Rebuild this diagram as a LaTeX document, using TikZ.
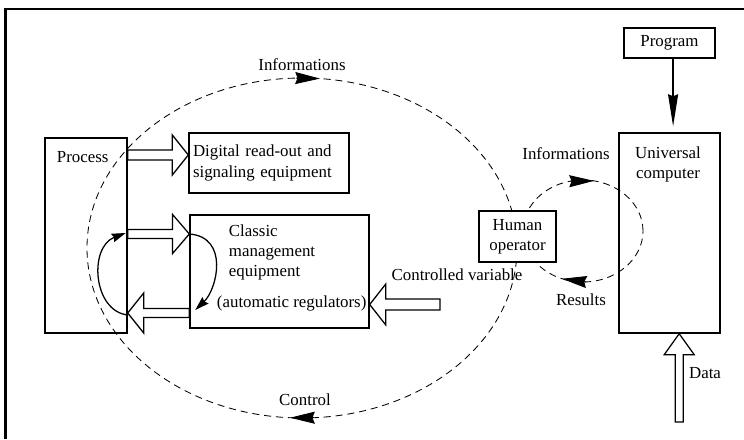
\documentclass[tikz,border=0pt]{standalone}
\usepackage{fontspec}
\setmainfont{Liberation Serif}
\usetikzlibrary{arrows.meta, calc}

% outline arrow: from, to, shaft half width, head half width, head length
\newcommand{\hollowarrow}[5]{%
  \draw[blockarrow] let \p1=(#1), \p2=(#2), \n1={atan2(\y2-\y1,\x2-\x1)}, \n2={veclen(\x2-\x1,\y2-\y1)} in
    [shift={(\p1)}, rotate=\n1]
    (0,-#3) -- (\n2-#5,-#3) -- (\n2-#5,-#4) -- (\n2,0) -- (\n2-#5,#4) -- (\n2-#5,#3) -- (0,#3) -- cycle;}

\tikzset{
  box/.style={draw, line width=1pt, inner sep=0.1cm},
  blockarrow/.style={line width=0.9pt},
  dashloop/.style={dash pattern=on 5pt off 3.5pt, line width=0.6pt},
  dashhead/.style={-{Stealth[length=0.62cm,width=0.3cm,inset=0.06cm]}, line width=0.6pt},
  curvearrow/.style={-{Stealth[length=0.35cm,width=0.22cm,inset=0.04cm]}, line width=0.9pt}
}

\begin{document}
\begin{tikzpicture}[font=\fontsize{12}{14.4}\selectfont]
\useasboundingbox (0,0) rectangle (18.6,10.975);
\draw[line width=1.8pt] (0.14,0) -- (0.14,10.75) -- (18.6,10.75);

% dashed loops first, the operator box covers them
\coordinate (bigc) at (7.55,4.775);
\coordinate (smallc) at (14.575,5.2);
\draw[dashloop] (bigc) ellipse [x radius=5.375, y radius=4.25];
\draw[dashloop] (smallc) ellipse [x radius=1.5, y radius=1.275];
\path (bigc) ++(91.6:5.375 and 4.25) coordinate (infoa) (bigc) ++(85.2:5.375 and 4.25) coordinate (infob)
      (bigc) ++(-86.8:5.375 and 4.25) coordinate (ctrla) (bigc) ++(-93.2:5.375 and 4.25) coordinate (ctrlb)
      (smallc) ++(102.5:1.5 and 1.275) coordinate (sinfoa) (smallc) ++(79.4:1.5 and 1.275) coordinate (sinfob)
      (smallc) ++(-87.1:1.5 and 1.275) coordinate (resa) (smallc) ++(-110.5:1.5 and 1.275) coordinate (resb);
\draw[dashhead] (infoa) -- (infob);
\draw[dashhead] (ctrla) -- (ctrlb);
\draw[dashhead] (sinfoa) -- (sinfob);
\draw[dashhead] (resa) -- (resb);

\node[box, minimum width=2.05cm, minimum height=4.875cm] (process) at (2.15,5.0875) {};
\node[anchor=west] (processtext) at (1.3,7.05) {Process};
\node[box, minimum width=4cm, minimum height=1.5cm, text width=3.8cm, align=left] (digital) at (6.725,6.9) {Digital read-out and\\signaling equipment};
\node[box, minimum width=4.475cm, minimum height=2.825cm] (classic) at (6.9875,4.1875) {};
\node[anchor=west, align=left] (classictext) at (5.6,4.66) {Classic\\management\\equipment};
\node[anchor=west] (regulators) at (5.3,3.4) {(automatic regulators)};
\node[box, fill=white, minimum width=1.925cm, minimum height=1.275cm, align=center] (operator) at (12.9375,5.0625) {Human\\operator};
\node[box, minimum width=2.525cm, minimum height=5cm] (computer) at (16.7375,5.15) {};
\node[align=center] (computertext) at (16.7,6.86) {Universal\\computer};
\node[box, minimum width=2.275cm, minimum height=0.75cm] (program) at (16.7375,9.9) {Program};

\node (info1) at (7.55,9.35) {Informations};
\node (info2) at (14.15,7.125) {Informations};
\node (controlled) at (11.425,4.1) {Controlled variable};
\node (results) at (14.525,3.475) {Results};
\node (control) at (7.625,0.975) {Control};
\node (data) at (17.625,1.65) {Data};

\hollowarrow{process.east |- 0,7.1}{digital.west |- 0,7.1}{0.125cm}{0.5cm}{0.4cm}
\hollowarrow{process.east |- 0,5.125}{classic.west |- 0,5.125}{0.115cm}{0.49cm}{0.42cm}
\hollowarrow{classic.west |- 0,3.15}{process.east |- 0,3.15}{0.115cm}{0.5cm}{0.4cm}
\coordinate (cvstart) at (11.0,3.3625);
\hollowarrow{cvstart}{classic.east |- cvstart}{0.14cm}{0.51cm}{0.4cm}
\coordinate (datastart) at (16.98,0.425);
\hollowarrow{datastart}{datastart |- computer.south}{0.1cm}{0.375cm}{0.525cm}

\draw[curvearrow] (classic.west |- 0,5.125) .. controls +(1,-0.075) and +(0.55,0.525) .. ([xshift=0.15cm]classic.west |- 0,3.225);
\draw[curvearrow] (process.east |- 0,3.1) .. controls +(-0.875,0.1) and +(-0.925,-0.35) .. ([xshift=-0.05cm]process.east |- 0,5.15);
\draw[-{Stealth[length=0.8cm,width=0.25cm,inset=0.05cm]}, line width=1pt, shorten >=0.15cm] ([xshift=0.09cm]program.south) -- ([xshift=0.09cm]program.south |- computer.north);
\end{tikzpicture}
\end{document}
